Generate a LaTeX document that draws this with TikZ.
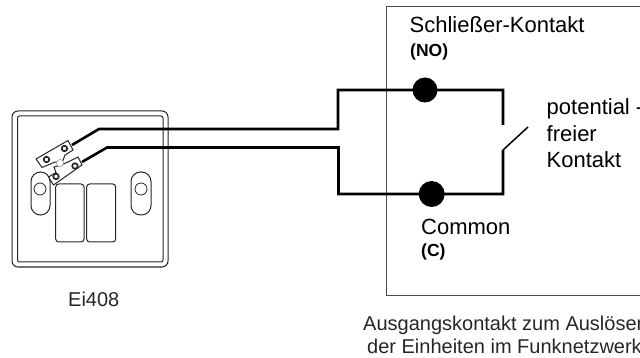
\documentclass[tikz,border=0pt]{standalone}
\usepackage{fontspec}
\setmainfont{Liberation Sans}
\tikzset{
  wire/.style={line width=2.6pt,black,line join=miter},
  thin line/.style={line width=0.9pt,black!70},
  plate/.style={line width=1pt,black!85},
  screw/.style={circle,draw=black!85,line width=1.7pt,fill=white,inner sep=0pt,minimum size=5.5pt},
  dot/.style={circle,fill=black,inner sep=0pt},
  bigtext/.style={font=\fontsize{22}{26}\selectfont,anchor=base west,inner sep=0pt},
  smalltext/.style={font=\fontsize{17.5}{20}\selectfont\bfseries,anchor=base west,inner sep=0pt},
  captext/.style={font=\fontsize{20}{24}\selectfont,anchor=base west,inner sep=0pt,text=black!85},
}
\begin{document}
\begin{tikzpicture}[x=1pt,y=-1pt]
\useasboundingbox (0,0) rectangle (640,358);
\clip (0,0) rectangle (640,358);
% box
\draw[thin line] (660,6) -- (386.7,6) -- (386.7,295) -- (660,295);
% plate
\draw[plate,rounded corners=6pt] (12,111) rectangle (168,267);
\draw[plate,rounded corners=2pt] (17.5,116) rectangle (163,262);
% slots
\draw[plate,rounded corners=9.5pt] (31,172) rectangle (50,215);
\draw[plate,rounded corners=9.5pt] (131,172) rectangle (151,215);
\node[circle,draw=black!85,line width=0.8pt,minimum size=12pt,inner sep=0pt] (h1) at (40,189) {};
\node[circle,draw=black!85,line width=0.8pt,minimum size=12pt,inner sep=0pt] (h2) at (141,189) {};
% rockers
\draw[plate,rounded corners=3pt] (55.7,184) rectangle (84,242);
\draw[plate,rounded corners=3pt] (86.7,184) rectangle (115.7,242);
% terminals
\draw[plate,fill=white] (36,159) -- (68,140.5) -- (73,150) -- (65,155) -- (62,163) -- (55,162) -- (42,167.5) -- cycle;
\draw[plate,fill=white] (48.5,177) -- (56,172.5) -- (54,167) -- (61,165) -- (68,162) -- (78,157) -- (82,165) -- (53.5,185) -- cycle;
\node[circle,draw=black!40,line width=0.6pt,fill=white,minimum size=7pt,inner sep=0pt] (c) at (60,163) {};
\node[screw] (s1) at (46.5,159.5) {};
\node[screw] (s2) at (64.5,148.5) {};
\node[screw] (s3) at (56,176.5) {};
\node[screw] (s4) at (75,166) {};
% contact dots
\node[dot,minimum size=25pt] (no) at (425,90) {};
\node[dot,minimum size=26pt] (com) at (431.7,194) {};
% wires
\coordinate (st) at (72,145);
\coordinate (sb) at (82,162);
\coordinate (top) at (503,125);
\coordinate (bot) at (503,150);
\coordinate (blade) at (528,127);
\draw[wire] (st) -- (99,129) -- (338,129) |- (no.center) -| (top);
\draw[wire] (sb) -- (107,147.5) -- (338.5,147.5) |- (com.center) -| (bot);
\draw[line width=1.5pt] (bot) -- (blade);
% text
\node[bigtext] (t1) at (409.5,33) {Schließer-Kontakt};
\node[smalltext] (t2) at (410,57) {(NO)};
\node[bigtext] (t3) at (546.5,115) {potential -};
\node[bigtext] (t4) at (546.5,142) {freier};
\node[bigtext] (t5) at (546.5,168) {Kontakt};
\node[bigtext] (t6) at (421,235) {Common};
\node[smalltext] (t7) at (421,257) {(C)};
\node[captext] (t8) at (363,330) {Ausgangskontakt zum Auslösen};
\node[captext] (t9) at (367,353) {der Einheiten im Funknetzwerk};
\node[captext] (t10) at (68,306) {Ei408};
\end{tikzpicture}
\end{document}
